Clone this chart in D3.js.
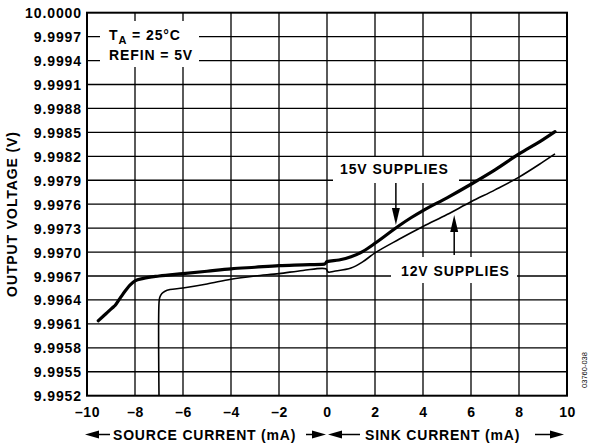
<!DOCTYPE html>
<html>
<head>
<meta charset="utf-8">
<script src="https://cdn.jsdelivr.net/npm/d3@7"></script>
<style>
  html, body { margin: 0; padding: 0; background: #fff; }
  svg { display: block; }
  text { font-family: "Liberation Sans", Arial, Helvetica, sans-serif; fill: #000; }
</style>
</head>
<body>
<svg id="chart" width="590" height="446"></svg>
<script>
// ---- data ----
const xTicks = [-10, -8, -6, -4, -2, 0, 2, 4, 6, 8, 10];
const xTickLabels = ["\u201310", "\u20138", "\u20136", "\u20134", "\u20132", "0", "2", "4", "6", "8", "10"];
const yTickLabels = ["9.9952", "9.9955", "9.9958", "9.9961", "9.9964", "9.9967", "9.9970", "9.9973",
  "9.9976", "9.9979", "9.9982", "9.9985", "9.9988", "9.9991", "9.9994", "9.9997", "10.0000"];

const supply15x = [-9.53, -9.2, -8.95, -8.83, -8.65, -8.49, -8.2, -8.0, -7.65, -7.0, -6.0, -5.0, -4.0, -3.0, -2.0, -1.0, -0.1,
  0.0, 0.5, 1.0, 1.5, 2.0, 2.5, 3.0, 3.5, 4.0, 5.0, 6.0, 7.0, 8.0, 9.0, 9.5];
const supply15v = [9.99614, 9.99623, 9.99630, 9.99633, 9.99641, 9.99648, 9.99659, 9.99664, 9.99667, 9.99670, 9.99673, 9.99676,
  9.99679, 9.99681, 9.99683, 9.99684, 9.99685, 9.99688, 9.99690, 9.99694, 9.99701, 9.99711, 9.99722, 9.99733, 9.99743,
  9.99752, 9.99768, 9.99785, 9.99803, 9.99823, 9.99841, 9.99851];

const supply12x = [-7.0, -7.0, -6.97, -6.88, -6.75, -6.54, -6.0, -5.0, -4.0, -3.0, -2.0, -1.0, -0.05, 0.05, 0.3, 1.0, 1.5, 2.0,
  3.0, 4.0, 5.0, 6.0, 7.0, 8.0, 9.0, 9.5];
const supply12v = [9.99520, 9.99636, 9.99643, 9.99648, 9.99651, 9.99653, 9.99655, 9.99660, 9.99666, 9.99670, 9.99673, 9.99677,
  9.99679, 9.99675, 9.99676, 9.99680, 9.99688, 9.99699, 9.99716, 9.99732, 9.99747, 9.99763, 9.99778, 9.99794, 9.99813, 9.99823];

// ---- layout ----
const L = 87, R = 567, T = 12.7, B = 395.7;
const svg = d3.select("#chart");
const x = d3.scaleLinear().domain([-10, 10]).range([L, R]);
const y = d3.scaleLinear().domain([9.9952, 10.0000]).range([B, T]);
const yTicks = yTickLabels.map(s => +s);

// grid
const grid = svg.append("g").attr("stroke", "#000").attr("stroke-width", 1.3);
grid.selectAll(".vx").data(xTicks.slice(1, -1)).join("line")
  .attr("x1", d => x(d)).attr("x2", d => x(d)).attr("y1", T).attr("y2", B);
grid.selectAll(".hy").data(yTicks.slice(1, -1)).join("line")
  .attr("x1", L).attr("x2", R).attr("y1", d => y(d)).attr("y2", d => y(d));

// label background boxes
const boxes = [[100, 21, 99, 46], [333, 157, 126, 26], [391, 257, 126, 26]];
svg.selectAll(".bg").data(boxes).join("rect")
  .attr("x", d => d[0]).attr("y", d => d[1]).attr("width", d => d[2]).attr("height", d => d[3])
  .attr("fill", "#fff");

// frame
svg.append("rect").attr("x", L).attr("y", T).attr("width", R - L).attr("height", B - T)
  .attr("fill", "none").attr("stroke", "#000").attr("stroke-width", 2);

// axes tick labels
const xAxis = d3.axisBottom(x).tickValues(xTicks).tickSize(0).tickPadding(0)
  .tickFormat((d, i) => xTickLabels[i]);
const gx = svg.append("g").attr("transform", `translate(0,${B})`).call(xAxis);
gx.select(".domain").remove();
gx.selectAll("text").attr("y", 21).attr("dy", 0)
  .style("font-size", "14px").style("font-weight", "bold").style("letter-spacing", "0.5px");

const yAxis = d3.axisLeft(y).tickValues(yTicks).tickSize(0).tickPadding(0)
  .tickFormat((d, i) => yTickLabels[i]);
const gy = svg.append("g").attr("transform", `translate(${L - 5},0)`).call(yAxis);
gy.select(".domain").remove();
gy.selectAll("text").attr("x", 0).attr("dy", "0.36em")
  .style("font-size", "14px").style("font-weight", "bold").style("letter-spacing", "0.9px");
svg.selectAll("g").attr("font-family", null);

// curves
const line15 = d3.line().x(d => x(d[0])).y(d => y(d[1])).curve(d3.curveMonotoneX);
const line12 = d3.line().x(d => x(d[0])).y(d => y(d[1])).curve(d3.curveCatmullRom.alpha(0.5));
svg.append("path").datum(supply15x.map((d, i) => [d, supply15v[i]]))
  .attr("d", line15).attr("fill", "none").attr("stroke", "#000")
  .attr("stroke-width", 3.2).attr("stroke-linejoin", "round").attr("stroke-linecap", "round");
svg.append("path").datum(supply12x.map((d, i) => [d, supply12v[i]]))
  .attr("d", line12).attr("fill", "none").attr("stroke", "#000")
  .attr("stroke-width", 1.6).attr("stroke-linejoin", "round");

// annotation texts
const bold = sel => sel.style("font-weight", "bold").style("font-size", "14px").style("letter-spacing", "0.9px");
const ta = svg.append("text").attr("x", 109).attr("y", 39.5).call(bold);
ta.append("tspan").text("T");
ta.append("tspan").text("A").attr("dy", 4).style("font-size", "11px");
ta.append("tspan").text(" = 25°C").attr("dy", -4);
svg.append("text").attr("x", 109).attr("y", 60).text("REFIN = 5V").call(bold);
svg.append("text").attr("x", 340).attr("y", 174).text("15V SUPPLIES").call(bold);
svg.append("text").attr("x", 401).attr("y", 276).text("12V SUPPLIES").call(bold);

// pointer arrows
function vArrow(px, yFrom, yTip) {
  const dir = yTip > yFrom ? 1 : -1;
  svg.append("line").attr("x1", px).attr("x2", px).attr("y1", yFrom).attr("y2", yTip - dir * 10)
    .attr("stroke", "#000").attr("stroke-width", 1.5);
  svg.append("path").attr("d", `M${px - 4},${yTip - dir * 17} L${px + 4},${yTip - dir * 17} L${px},${yTip} Z`)
    .attr("fill", "#000");
}
vArrow(x(2.87), 183, 225);
vArrow(x(5.3), 255, 215);

// x axis title with arrows
function hArrow(x1, x2) { // tip at x2
  const dir = x2 > x1 ? 1 : -1;
  const yy = 434.5;
  svg.append("line").attr("x1", x1).attr("x2", x2 - dir * 8).attr("y1", yy).attr("y2", yy)
    .attr("stroke", "#000").attr("stroke-width", 1.5);
  svg.append("path").attr("d", `M${x2 - dir * 14},${yy - 4} L${x2 - dir * 14},${yy + 4} L${x2},${yy} Z`).attr("fill", "#000");
}
hArrow(110, 85);
hArrow(306, 326);
hArrow(360, 328);
hArrow(535, 564);
svg.append("text").attr("x", 113).attr("y", 439.5).text("SOURCE CURRENT (mA)").call(bold).style("letter-spacing", "0.8px");
svg.append("text").attr("x", 365).attr("y", 439.5).text("SINK CURRENT (mA)").call(bold).style("letter-spacing", "0.8px");

// y axis title
svg.append("text").attr("transform", "translate(17,214) rotate(-90)").attr("text-anchor", "middle")
  .text("OUTPUT VOLTAGE (V)").call(bold).style("letter-spacing", "0.9px");

// figure id
svg.append("text").attr("transform", "translate(587,370) rotate(-90)").attr("text-anchor", "middle")
  .style("font-size", "7.5px").text("03760-038");
</script>
</body>
</html>
